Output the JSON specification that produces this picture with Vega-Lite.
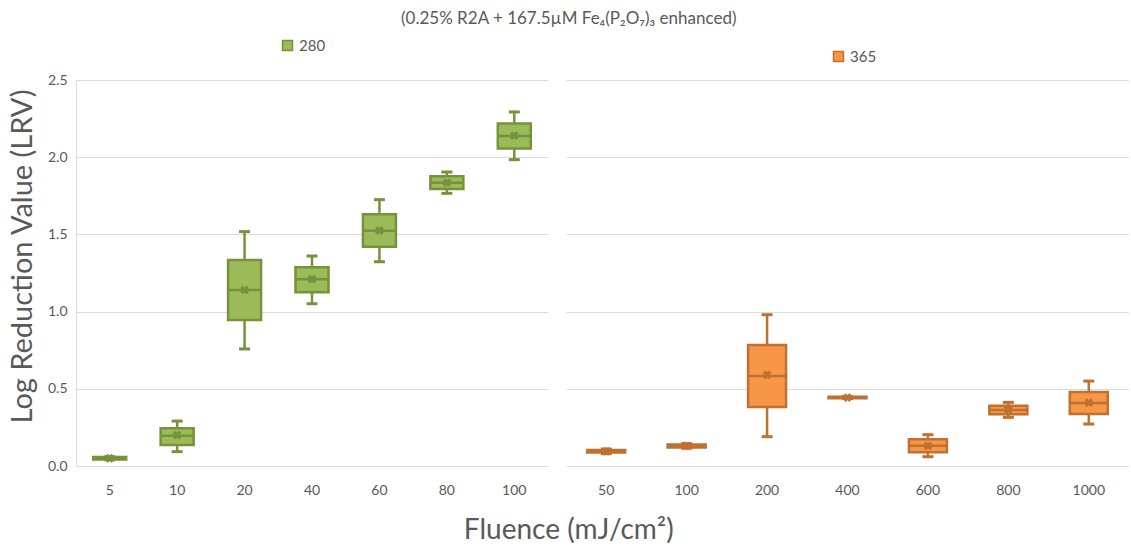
{
  "$schema": "https://vega.github.io/schema/vega-lite/v6.json",
  "padding": {"left": 8, "top": 10, "right": 0, "bottom": 0},
  "background": "white",
  "config": {
    "font": "Lato",
    "view": {"stroke": null},
    "axis": {"labelColor": "#595959", "titleColor": "#595959", "labelFontSize": 14, "labelFont": "Lato", "titleFont": "Lato", "titleFontWeight": "normal", "gridColor": "#dcdcdc", "ticks": false, "domain": false},
    "legend": {"labelColor": "#595959", "labelFontSize": 15, "symbolType": "square", "symbolSize": 100, "symbolStrokeWidth": 1.5, "symbolOpacity": 1},
    "title": {"color": "#595959", "fontWeight": "normal", "font": "Lato"}
  },
  "title": {"text": "Fluence (mJ/cm²)", "orient": "bottom", "fontSize": 28, "offset": 20, "anchor": "middle"},
  "vconcat": [
    {
      "title": {"text": "(0.25% R2A + 167.5µM Fe₄(P₂O₇)₃ enhanced)", "fontSize": 17, "anchor": "middle", "offset": 10},
      "spacing": 18,
      "resolve": {"scale": {"color": "independent"}},
      "hconcat": [
        {
          "width": 472,
          "height": 386,
          "data": {"values": [
            {"uv": "280", "fluence": "5", "min": 0.04, "q1": 0.042, "median": 0.05, "q3": 0.058, "max": 0.06, "mean": 0.05},
            {"uv": "280", "fluence": "10", "min": 0.093, "q1": 0.136, "median": 0.196, "q3": 0.244, "max": 0.291, "mean": 0.2},
            {"uv": "280", "fluence": "20", "min": 0.758, "q1": 0.946, "median": 1.14, "q3": 1.334, "max": 1.518, "mean": 1.14},
            {"uv": "280", "fluence": "40", "min": 1.051, "q1": 1.125, "median": 1.209, "q3": 1.287, "max": 1.36, "mean": 1.21},
            {"uv": "280", "fluence": "60", "min": 1.323, "q1": 1.42, "median": 1.524, "q3": 1.63, "max": 1.725, "mean": 1.525},
            {"uv": "280", "fluence": "80", "min": 1.766, "q1": 1.794, "median": 1.835, "q3": 1.876, "max": 1.904, "mean": 1.835},
            {"uv": "280", "fluence": "100", "min": 1.984, "q1": 2.057, "median": 2.137, "q3": 2.219, "max": 2.293, "mean": 2.14}
          ]},
          "encoding": {
            "x": {"field": "fluence", "type": "ordinal", "sort": null, "scale": {"paddingInner": 0, "paddingOuter": 0},
                  "axis": {"title": null, "labelAngle": 0, "labelPadding": 17, "grid": false}}
          },
          "layer": [
            {
              "mark": {"type": "rule", "stroke": "#76923c", "strokeWidth": 2.5},
              "encoding": {
                "y": {"field": "min", "type": "quantitative", "scale": {"domain": [0, 2.5], "nice": false},
                      "axis": {"title": "Log Reduction Value (LRV)", "titleFontSize": 29, "titlePadding": 10, "titleY": 176, "labelPadding": 9, "format": ".1f", "values": [0, 0.5, 1, 1.5, 2, 2.5], "grid": true, "domain": true, "domainColor": "#dcdcdc"}},
                "y2": {"field": "max"}
              }
            },
            {
              "mark": {"type": "tick", "color": "#76923c", "size": 11, "thickness": 3, "opacity": 1},
              "encoding": {"y": {"field": "min", "type": "quantitative"}}
            },
            {
              "mark": {"type": "tick", "color": "#76923c", "size": 11, "thickness": 3, "opacity": 1},
              "encoding": {"y": {"field": "max", "type": "quantitative"}}
            },
            {
              "mark": {"type": "bar", "size": 33, "stroke": "#76923c", "strokeWidth": 2.5, "opacity": 1},
              "encoding": {
                "y": {"field": "q1", "type": "quantitative"},
                "y2": {"field": "q3"},
                "color": {"field": "uv", "type": "nominal", "scale": {"domain": ["280"], "range": ["#9bbb59"]},
                          "legend": {"title": null, "orient": "none", "legendX": 204, "legendY": -42, "symbolStrokeColor": "#76923c"}}
              }
            },
            {
              "mark": {"type": "tick", "color": "#76923c", "size": 33, "thickness": 2.5, "opacity": 1},
              "encoding": {"y": {"field": "median", "type": "quantitative"}}
            },
            {
              "mark": {"type": "point", "shape": "cross", "angle": 45, "filled": true, "color": "#76923c", "size": 80, "opacity": 1},
              "encoding": {"y": {"field": "mean", "type": "quantitative"}}
            }
          ]
        },
        {
          "width": 563,
          "height": 386,
          "data": {"values": [
            {"uv": "365", "fluence": "50", "min": 0.08, "q1": 0.087, "median": 0.095, "q3": 0.103, "max": 0.11, "mean": 0.095},
            {"uv": "365", "fluence": "100", "min": 0.115, "q1": 0.12, "median": 0.13, "q3": 0.14, "max": 0.145, "mean": 0.13},
            {"uv": "365", "fluence": "200", "min": 0.19, "q1": 0.382, "median": 0.583, "q3": 0.784, "max": 0.98, "mean": 0.59},
            {"uv": "365", "fluence": "400", "min": 0.437, "q1": 0.438, "median": 0.443, "q3": 0.448, "max": 0.45, "mean": 0.443},
            {"uv": "365", "fluence": "600", "min": 0.06, "q1": 0.089, "median": 0.131, "q3": 0.173, "max": 0.203, "mean": 0.13},
            {"uv": "365", "fluence": "800", "min": 0.315, "q1": 0.335, "median": 0.363, "q3": 0.391, "max": 0.412, "mean": 0.365},
            {"uv": "365", "fluence": "1000", "min": 0.272, "q1": 0.337, "median": 0.408, "q3": 0.479, "max": 0.55, "mean": 0.41}
          ]},
          "encoding": {
            "x": {"field": "fluence", "type": "ordinal", "sort": null, "scale": {"paddingInner": 0, "paddingOuter": 0},
                  "axis": {"title": null, "labelAngle": 0, "labelPadding": 17, "grid": false}}
          },
          "layer": [
            {
              "mark": {"type": "rule", "stroke": "#c0702f", "strokeWidth": 2.5},
              "encoding": {
                "y": {"field": "min", "type": "quantitative", "scale": {"domain": [0, 2.5], "nice": false},
                      "axis": {"title": null, "labels": false, "minExtent": 0, "maxExtent": 0, "values": [0, 0.5, 1, 1.5, 2, 2.5], "grid": true}},
                "y2": {"field": "max"}
              }
            },
            {
              "mark": {"type": "tick", "color": "#c0702f", "size": 11, "thickness": 3, "opacity": 1},
              "encoding": {"y": {"field": "min", "type": "quantitative"}}
            },
            {
              "mark": {"type": "tick", "color": "#c0702f", "size": 11, "thickness": 3, "opacity": 1},
              "encoding": {"y": {"field": "max", "type": "quantitative"}}
            },
            {
              "mark": {"type": "bar", "size": 38, "stroke": "#c0702f", "strokeWidth": 2.5, "opacity": 1},
              "encoding": {
                "y": {"field": "q1", "type": "quantitative"},
                "y2": {"field": "q3"},
                "color": {"field": "uv", "type": "nominal", "scale": {"domain": ["365"], "range": ["#f79646"]},
                          "legend": {"title": null, "orient": "none", "legendX": 265, "legendY": -31, "symbolStrokeColor": "#c0702f"}}
              }
            },
            {
              "mark": {"type": "tick", "color": "#c0702f", "size": 38, "thickness": 2.5, "opacity": 1},
              "encoding": {"y": {"field": "median", "type": "quantitative"}}
            },
            {
              "mark": {"type": "point", "shape": "cross", "angle": 45, "filled": true, "color": "#c0702f", "size": 80, "opacity": 1},
              "encoding": {"y": {"field": "mean", "type": "quantitative"}}
            }
          ]
        }
      ]
    }
  ]
}
